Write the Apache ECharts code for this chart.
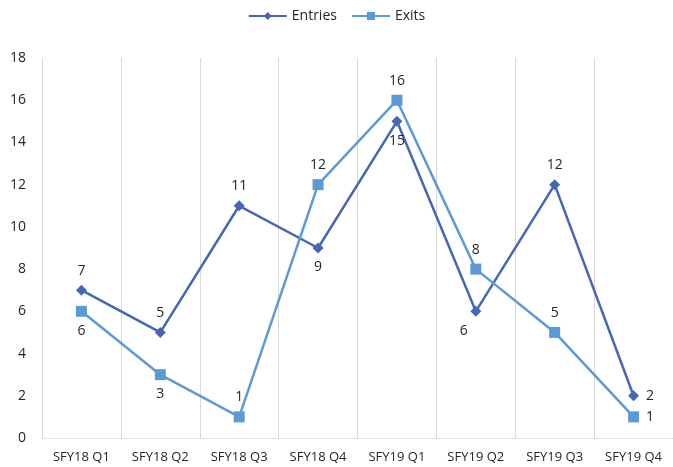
<!DOCTYPE html>
<html><head><meta charset="utf-8">
<script src="https://cdn.jsdelivr.net/npm/echarts@6/dist/echarts.min.js"></script>
<style>html,body{margin:0;padding:0;background:#fff}#c{width:673px;height:467px}</style>
</head><body><div id="c"></div>
<script>
var categories = ['SFY18 Q1','SFY18 Q2','SFY18 Q3','SFY18 Q4','SFY19 Q1','SFY19 Q2','SFY19 Q3','SFY19 Q4'];
var entries = [7,5,11,9,15,6,12,2];
var exits = [6,3,1,12,16,8,5,1];
var yTicks = [0,2,4,6,8,10,12,14,16,18];
var entriesLabelPos = ['top','top','top','bottom','bottom','left','top','right'];
var exitsLabelPos = ['bottom','bottom','top','top','top','top','top','right'];

function withLabels(vals, pos){
  return vals.map(function(v,i){
    var p = pos[i];
    var lbl = {position:p, distance: 7};
    if(p==='left'){ lbl = {position:'bottom', offset:[-12,0], distance:7}; }
    return {value:v, label:lbl};
  });
}
var chart = echarts.init(document.getElementById('c'));
var font = 'Open Sans, Liberation Sans, sans-serif';
chart.setOption({
  animation:false,
  textStyle:{fontFamily:font},
  legend:{
    top:4, left:'center', itemWidth:38, itemHeight:10, itemGap:14,
    textStyle:{fontSize:14,color:'#262626',fontFamily:font},
    data:['Entries','Exits']
  },
  grid:{left:42,right:-1,top:58,bottom:29,containLabel:false},
  xAxis:{
    type:'category', data:categories, boundaryGap:true,
    axisLine:{show:true,lineStyle:{color:'#d9d9d9',type:'dotted'}},
    axisTick:{show:false},
    splitLine:{show:true,lineStyle:{color:'#d9d9d9',width:1}},
    axisLabel:{interval:0,fontSize:13,color:'#262626',margin:13,fontFamily:font}
  },
  yAxis:{
    type:'value', min:0, max:18, interval:2,
    axisLine:{show:true,lineStyle:{color:'#d9d9d9',type:'dotted'}},
    axisTick:{show:false},
    splitLine:{show:false},
    axisLabel:{fontSize:14,color:'#262626',margin:16,fontFamily:font,
      formatter:function(v){return yTicks.indexOf(v)>=0?String(v):'';}}
  },
  series:[
    {name:'Entries',type:'line',data:withLabels(entries,entriesLabelPos),
     symbol:'diamond',symbolSize:11,
     itemStyle:{color:'#4668b4'},lineStyle:{color:'#4668b4',width:2.5},
     label:{show:true,fontSize:14,color:'#262626',fontFamily:font}},
    {name:'Exits',type:'line',data:withLabels(exits,exitsLabelPos),
     symbol:'rect',symbolSize:11,
     itemStyle:{color:'#5b9bd5'},lineStyle:{color:'#5b9bd5',width:2.5},
     label:{show:true,fontSize:14,color:'#262626',fontFamily:font}}
  ]
});
</script></body></html>
